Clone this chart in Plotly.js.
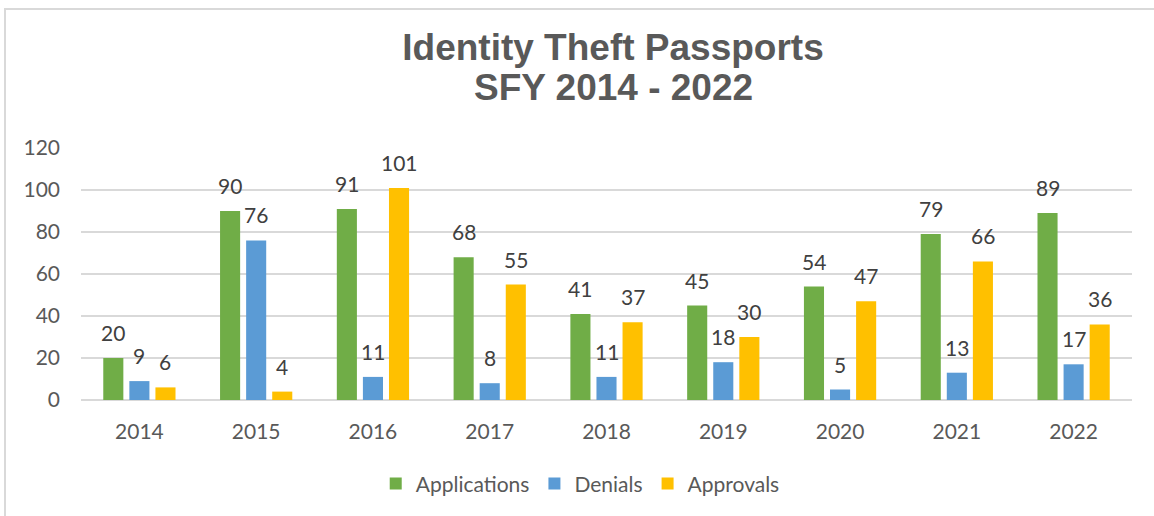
<!DOCTYPE html>
<html><head><meta charset="utf-8">
<script src="https://cdn.plot.ly/plotly-3.0.1.min.js"></script>
<style>
html,body{margin:0;padding:0;background:#fff;}
#frame{position:absolute;left:4px;top:8px;width:1200px;height:600px;border:2px solid #d9d9d9;}
#chart{position:absolute;left:0;top:0;width:1154px;height:516px;}
</style></head>
<body><div id="frame"></div><div id="chart"></div>
<script>
const years = ['2014','2015','2016','2017','2018','2019','2020','2021','2022'];
const applications = [20,90,91,68,41,45,54,79,89];
const denials = [9,76,11,8,11,18,5,13,17];
const approvals = [6,4,101,55,37,30,47,66,36];
const tickVals = [0,20,40,60,80,100,120];
const titleLine1 = 'Identity Theft Passports';
const titleLine2 = 'SFY 2014 - 2022';

const txt = '#595959';
const fnt = 'Lato, "Open Sans", sans-serif';
const W = 1154, H = 516, M = {l:81, r:22, t:148, b:116};
const bargap = 0.33, bargroupgap = 0.23;
const series = [
  {name:'Applications', vals:applications, color:'#70AD47'},
  {name:'Denials', vals:denials, color:'#5B9BD5'},
  {name:'Approvals', vals:approvals, color:'#FFC000'}
];
const catW = (W - M.l - M.r) / years.length;
const slot = catW * (1 - bargap) / series.length;

const data = series.map(s => ({type:'bar', name:s.name, x:years, y:s.vals,
  marker:{color:s.color}, hoverinfo:'none'}));

const annotations = [];
series.forEach((s, si) => {
  s.vals.forEach((v, i) => {
    annotations.push({x:i, y:v, xref:'x', yref:'y', text:String(v), showarrow:false,
      xanchor:'center', yanchor:'bottom', xshift:(si - (series.length-1)/2) * slot, yshift:11,
      font:{family:fnt, size:21, color:'#404040'}});
  });
});
annotations.push({text:'<b>'+titleLine2+'</b>', xref:'paper', yref:'paper', x:(613-M.l)/(W-M.l-M.r), y:(400-88)/252,
  xanchor:'center', yanchor:'middle', showarrow:false,
  font:{family:'"Liberation Sans", Arial, sans-serif', size:37, color:txt}});

const layout = {
  width:W, height:H, margin:M,
  paper_bgcolor:'rgba(0,0,0,0)', plot_bgcolor:'rgba(0,0,0,0)',
  title:{text:'<b>'+titleLine1+'</b>', x:613/W, xanchor:'center', y:1-47/H, yanchor:'middle', yref:'container',
    font:{family:'"Liberation Sans", Arial, sans-serif', size:37, color:txt}},
  bargap:bargap, bargroupgap:bargroupgap, barmode:'group',
  xaxis:{type:'category', showgrid:false, ticks:'', ticklabelstandoff:17,
    tickfont:{family:fnt, size:21, color:txt}, showline:false, zeroline:false},
  yaxis:{range:[0,120], tickvals:tickVals, ticktext:tickVals.map(String), showgrid:true, gridcolor:'#d9d9d9', gridwidth:2,
    zeroline:true, zerolinecolor:'#d9d9d9', zerolinewidth:2, ticks:'', ticklabelstandoff:20,
    tickfont:{family:fnt, size:21, color:txt}},
  showlegend:true,
  legend:{orientation:'h', x:0.475, xanchor:'center', y:-0.333, yanchor:'middle',
    font:{family:fnt, size:21, color:txt}, itemwidth:30, traceorder:'normal'},
  annotations:annotations
};
Plotly.newPlot('chart', data, layout, {staticPlot:true});
</script></body></html>
